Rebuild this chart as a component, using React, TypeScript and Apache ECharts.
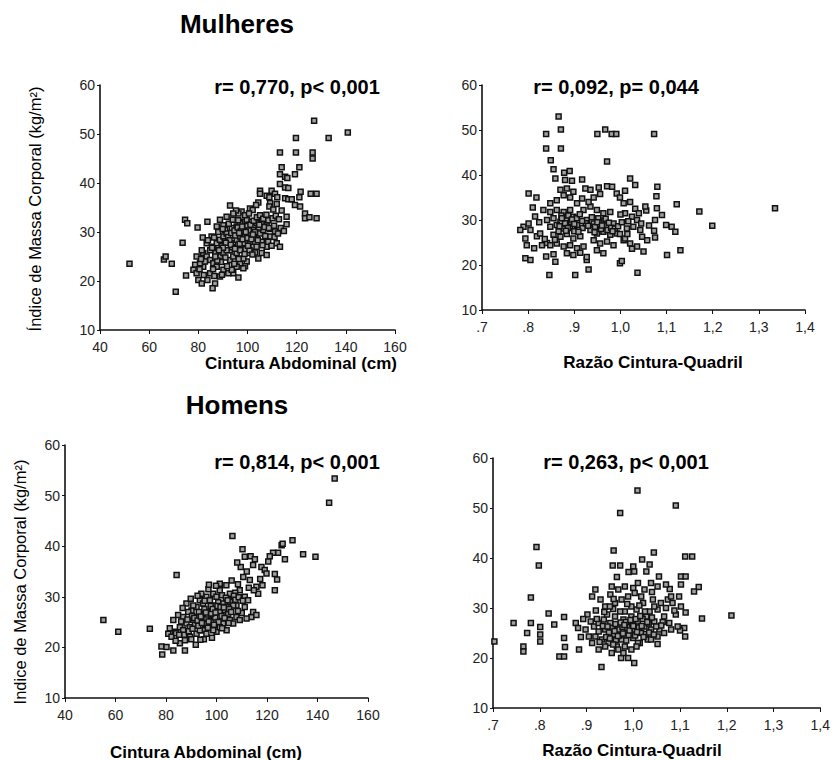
import React, { useEffect, useRef } from "react";
import * as echarts from "echarts";

// Mulheres: Cintura Abdominal (cm) x IMC
const mulheresCintura: [number, number][] = [
  [52,23.5],[66,24.4],[66.7,25],[69.2,23.5],[70.8,17.8],[73.6,27.8],[74.6,32.5],[75.5,31.8],[75,21.1],[79.7,30.9],[83.7,32.1],[81.8,28.9],[92.9,35.4],
  [127.1,52.7],[140.8,50.3],[119.7,49.2],[133,49.2],[113.2,46.2],[119.7,46.2],[126.5,46.2],[126.5,45],[113.9,43.2],[121.1,43.2],[113.2,41.8],[115.3,41.3],[116.2,41],[119.3,41.8],[113.2,39.8],[115.3,39.1],[116.6,39],
  [105.1,38.4],[105.1,37.8],[109.8,38.4],[111.2,37.8],[107.8,37.4],[108.9,37.1],[112.1,37.1],[115.3,36.9],[116.6,36.7],[118,36.7],[121.6,38.2],[121.1,37.1],[125.7,37.8],[128.1,37.8],
  [104.4,36],[103.5,35.5],[101,34.8],[102.1,34.5],[97.6,34.2],[96.3,33.8],[95.3,34.4],[109.2,35.9],[111.9,35.7],[108.9,35.2],[110.5,34.6],[113.9,34.4],[119.3,35.5],[121.4,35.2],[115.9,33.1],[115.9,31.6],[123.4,33.8],[123.4,32.8],[125.2,33],[128.1,32.8],
  [90.2,31.4],[90.9,30.4],[93.6,30.8],[98.3,32.1],[99.7,32.5],[101.7,32.1],[103.7,31.8],[105.8,31.8],[107.8,31.4],[109.2,30.6],[111.2,30.1],[111.9,27.7],[113.2,27],[107.8,27],[105.8,25.7],[103.1,25.8],[99.7,24],[99,23],[98.3,22.6],[94.2,21.6],[96.3,20.7],[86.8,19.5],[85.8,18.5],
  [78.7,23.3],[78,22.3],[79.3,21.6],[80,20.2],[81.4,19.5],[82,25.7],[83.4,25],[84.8,26.3],[86.1,27],[87.5,27.7],[88.8,28.4],[90.2,29.1],[91.5,29.7],[92.9,26.3],[94.2,27.7],[95.6,28.4],[97,29.1],[99.7,29.1],[101,29.7],[102.4,30.4],[103.7,29.1],[105.1,29.7],[106.4,30.4],[101,27.7],[102.4,27],
  [84.8,24.3],[86.1,23.6],[87.5,22.9],[88.8,25],[90.2,25.7],[91.5,26.3],[92.9,24.3],[94.2,25],[95.6,25.7],[97,26.3],[98.3,27.7],[97,23.6],[90.2,22.3],[92.2,21.6],[88.8,20.9],[84.8,21.6],[82,22.9],[80.7,23.6],[83.4,27.7],[85.4,29.1],[87.5,31.1],[88.8,32.5],[95.6,31.1],[97,31.8],[91.5,33.1],[94.2,33.8],[105.8,28],[103.7,27],[109.2,29.1],[100.3,25.7],[104.4,24.6],[107.8,25.3],[98.3,24.6],[95.6,22.9],[93.6,22.3],[79.3,25],[81.4,26.3],[82.7,24],
  [89.5,27.2],[90.8,28.1],[92.1,29],[93.4,29.8],[94.7,30.3],[96,30.9],[97.3,30.2],[98.6,30.8],[99.9,31.2],[101.2,31.5],[102.5,32.3],[103.8,33],[105.1,33.4],[106.4,32.7],[107.7,33.5],[108.5,32.4],[110.2,32.8],[111.5,33.3],[112.8,32.6],[113.5,30.8],[114.8,30.2],[110.8,31.3],[106.9,31],[104.5,30.9],[100.5,30.3],[96.8,27.6],[93.8,26.9],[91,24.8],[89.2,23.9],[87,25.7],[85.6,26.8],[83.9,28.3],[86.4,28.9],[88.1,30],[89.9,30.6],[92.4,31.7],[94,32.5],[96.2,32.4],[99,33.4],[100.6,33.8],[102.7,28.8],[104.2,28.3],[106.1,27.3],[108.4,28],[109.8,27.2],[111,29],[112.4,29.7],[98,28.5],[99.2,26.5],[100.8,26.3],[102,25.4],[96.4,24.5],[94.6,23.5],[91.7,23],[89.6,21.3],[86.5,21],[83.7,20.2],[82.2,21.2],[80.5,22.4],[81.1,24.5],[87.7,24.2],[86,22.4],
  [95,29.3],[96.6,29.8],[97.8,31.1],[99.3,30],[100,28.8],[101.6,28.5],[103,30],[104.8,31.5],[92.7,28.3],[91.2,27.8],[90,26.8],[88.4,26.3],[86.9,25],[93.2,27.4],[94.9,26.6],[98.8,25.5],[100.2,27.2],[102.2,29.5],[107.2,29.2],[108.7,30.8]
];

// Mulheres: Razão Cintura-Quadril x IMC
const mulheresRazao: [number, number][] = [
  [0.866,53],[0.839,49.1],[0.871,50.1],[0.95,49.1],[0.967,50.1],[0.981,49.1],[0.991,49.1],[1.073,49.1],[0.839,45.9],[0.871,45.9],[0.849,43.3],[0.971,43],[0.855,41.3],[0.878,40.5],[0.89,40.9],[0.859,39.2],[0.88,38.9],[0.895,38.7],[0.917,39],[0.924,37],[0.935,36.7],[0.953,37.2],[0.971,37.5],[0.982,37.4],[1.021,39.2],[1.032,37.8],[1.01,36.5],[1.08,37.4],[0.87,36.7],[0.884,37],[0.898,36.3],[0.877,35.5],[0.801,35.9],[0.818,35],[0.81,32.8],[1.122,33.5],[1.171,31.9],[1.335,32.6],[1.199,28.7],[1.078,35.3],[1.079,32.6],[1.056,32.1],[1.054,33],[1.075,30],[1.09,31.1],[1.111,28.5],[1.119,27.4],[1.073,27.6],[1.099,28.9],[1.13,23.3],[1.101,22.2],[1.075,26.1],[0.79,28.5],[0.801,29.2],[0.794,25.9],[0.797,24.4],[0.794,21.5],[0.805,21.1],[0.813,23.7],[0.83,24.4],[0.841,24.9],[0.819,26.4],[0.826,27],[0.839,21.9],[0.855,22.4],[0.848,24.4],[0.846,17.8],[0.859,20.7],[0.902,17.8],[0.931,19],[0.927,21.1],[0.999,20.4],[1.003,20.9],[1.037,18.3],
  [0.833,32.2],[0.848,31.8],[0.862,32.2],[0.877,31.8],[0.891,32.2],[0.841,30],[0.855,30.4],[0.87,29.6],[0.884,30],[0.898,30.7],[0.848,28.5],[0.862,28.9],[0.877,28.1],[0.891,28.5],[0.906,28.9],[0.855,26.7],[0.87,26.3],[0.884,26.9],[0.898,25.9],[0.913,26.4],[0.862,24.8],[0.877,24.1],[0.891,24.4],[0.906,23.7],[0.92,24.1],[0.884,22.6],[0.898,22.2],[0.913,22.7],[0.927,21.8],[0.92,32.2],[0.935,33],[0.949,32.2],[0.963,31.5],[0.978,31.8],[0.927,30],[0.942,29.2],[0.956,29.6],[0.971,28.9],[0.985,29.2],[0.935,27.8],[0.949,27],[0.963,27.4],[0.978,26.7],[0.992,27],[0.942,25.5],[0.956,24.8],[0.971,25.2],[0.985,24.4],[0.949,23.3],[0.963,22.6],[1.007,33.7],[1.021,34],[1.01,31.5],[1.025,30.7],[1.036,30],[1.014,28.1],[1.028,28.5],[1.043,27.8],[1.047,26.3],[1.007,25.5],[1.021,24.8],[1.036,24.1],[1.05,23],[0.999,26.9],[1.01,25.9],[0.805,27.8],[0.783,27.8],[0.848,33.7],[0.862,34.4],[0.891,35],[0.906,33.7],[0.917,34.8],[0.931,34],[0.942,35],[0.956,35.8],[0.992,35.9],[0.999,35],
  [0.88,29.3],[0.887,31],[0.893,29.6],[0.9,27.5],[0.905,30.4],[0.912,31.3],[0.918,28.2],[0.925,29.3],[0.945,28.5],[0.952,30.4],[0.958,28],[0.965,29.9],[0.972,27.8],[0.98,28.3],[0.988,28.1],[0.995,28.6],[1.003,29.5],[1.017,29.7],[1.032,32.5],[1.04,31.5],[1.045,29.2],[1.058,25.5],[1.062,28.8],[0.866,27.5],[0.872,31],[0.858,25.6],[0.836,25.8],[0.824,29.5],[0.815,30.8],[1.0,31.2],[1.015,26.9],[1.025,23.6],
  [0.886,28.2],[0.895,30.1],[0.9,29.1],[0.909,27.4],[0.917,29.8],[0.93,28.7],[0.938,30.6],[0.944,27.3],[0.95,29.5],[0.96,28.8],[0.968,30.3],[0.975,29.4],[0.983,27.5],[0.873,30.4],[0.868,28.6],[0.882,27.6]
];

// Homens: Cintura Abdominal (cm) x IMC
const homensCintura: [number, number][] = [
  [55.2,25.4],[61.1,23.1],[73.6,23.7],[84.2,34.3],[106.3,42],[78.5,18.6],[78.2,20.2],[146.8,53.4],[144.6,48.6],[130.1,41.2],[134.3,38.4],[139.2,37.9],[127.1,37.4],[125.8,40.2],[126.2,40.5],[124.4,38.7],[122.4,38.7],[121.1,38],[113.8,26],[117.8,35.9],[119.1,35.3],[119.8,34.6],[123.1,34.5],[124,33.4],[123.1,31.3],[110.3,39.4],[111.2,37.9],[113.5,38],[115.2,37.4],[114.5,36.3],[109.6,35.9],[110.6,33.9],[113.2,33.3],[115.8,32],[116.5,30.6],[114.8,31.3],[109.2,31.3],[111.2,30],[112.5,29.3],[111.2,28],[101.3,32.6],[103.9,32.3],[105.3,30.6],[106.6,29.3],[107.9,28.3],
  [80.9,22.7],[82.2,22.1],[83.5,23.1],[85.5,24],[86.8,23.4],[88.1,24.7],[89.5,24],[90.8,25.4],[92.1,26],[93.4,25],[94.7,26.4],[96,25.7],[97.4,27],[98.7,26.4],[100,27.7],[101.3,27],[102.6,28.7],[104,28],[105.3,29],[106.6,28.3],
  [88.1,28.7],[90.1,27.3],[92.1,28],[93.4,29.3],[94.7,28.7],[96,30],[97.4,29.3],[98.7,30.6],[100,30],[101.3,31.3],
  [89.5,22.1],[92.1,22.7],[94.7,23.4],[97.4,24],[100,23.1],[102.6,24.7],[105.3,25.4],[107.9,26],
  [82.9,25.4],[84.8,26.4],[86.8,26],[88.8,27],[90.8,28.3],[85.5,20.8],[87.5,21.4],[80.2,20.1],[82.9,19.4],[87.5,19.4],
  [93.4,23.4],[96,22.7],[98.7,23.4],[101.3,24],[104,23.4],[106.6,24.7],[109.2,25.4],[111.9,25.7],[114.5,27],[115.8,26.4],
  [91.5,24.5],[93,27],[95.2,27.6],[96.5,26.5],[98,25.2],[99.2,28.3],[100.7,28.9],[102,26.2],[103.3,27.4],[104.6,26.6],[99.5,25.9],[97.7,28.2],[95.5,24.6],[92.8,24.3],[90.3,26.2],[88.5,25.5],[87.2,22.5],[86,25.1],[84,22.8],[96.8,31.5],[99.8,32.2],[102.2,30.3],[103.7,29.8],[107.4,30.8],[108.5,32.5],[106,33.2],[112,35],[108.2,36.8],[117.3,33.5],[120.5,37],[118.2,32.3],[110,26.8],[112.8,31.8],[105,27.6],[100.8,25],[98.2,21.9],[95,21.6],[91.8,20.5],[83.8,21.3],[81.5,23.8],
  [89,23.2],[90.5,23.7],[91.2,25.8],[92.5,25.3],[93.8,26.1],[94.2,24.8],[95.8,26.9],[96.9,25.1],[97.9,26.7],[98.5,27.6],[99.6,26.9],[100.4,28.2],[101.6,28],[102.9,27.9],[103.2,25.8],[104.4,29.3],[105.8,27],[106.9,30.2],[107.5,29.4],[108.8,29.9],[110.4,29.2],[95.3,29.2],[94,30.6],[97,32.4],[92.5,30.2],[89.8,29.6],[86.6,27.8],[85.2,22.5],[93.6,21.5],[96.6,23.9],[99,24.5],[102.2,23.8],[104.8,24.8],[108.5,27.2],[90,21.6]
];

// Homens: Razão Cintura-Quadril x IMC
const homensRazao: [number, number][] = [
  [0.703,23.3],[0.744,27],[0.765,22.3],[0.765,21.3],[0.773,25],[0.781,32.1],[0.781,27],[0.793,42.2],[0.798,38.5],[0.801,26.2],[0.801,24.7],[0.801,23.3],[0.819,28.9],[0.831,26.7],[0.842,20.3],[0.852,20.3],[0.852,28.2],[0.852,24],[0.854,22.2],[0.877,27],[0.882,26],[0.884,21.7],[0.932,18.2],[0.972,49],[1.009,53.5],[1.091,50.5],[0.958,41.5],[1.044,41.1],[0.956,38.5],[0.972,38.5],[1.21,28.5],[1.147,27.9],[1.14,34.2],[1.13,33.3],[1.111,40.3],[1.126,40.3],[1.102,36.3],[1.112,36.3],[1.102,34.7],[1.112,29.1],[1.109,26],[1.111,24.3],[1.1,25.5],[1.052,22.8],[0.974,20],[0.989,20],[1.002,19],[1.019,39.7],[1.035,38.7],[1.028,37.3],[1,38.3],[1.002,37.3],[1.055,36.3],[1.078,33.8],
  [0.902,28.7],[0.909,27.3],[0.916,26.3],[0.919,24.3],[0.926,25.3],[0.933,23.7],[0.94,25.7],[0.947,23],[0.951,27],[0.958,24.7],[0.961,28.3],[0.965,22.3],[0.968,25.7],[0.975,23.7],[0.979,27.7],[0.982,29.3],[0.986,25],[0.993,26.3],[0.996,28.3],[1,24],[1.003,25.7],[1.007,29.7],[1.01,27.3],[1.014,23],[1.017,25],[1.021,31],[1.024,26.3],[1.028,28.3],[1.031,23.7],[1.035,29.3],[1.038,25.7],[1.042,31.7],[1.045,27.3],[1.052,29.7],[1.056,25.7],[1.059,31],[1.066,28.3],[1.074,31.7],[1.077,27],[1.084,31],[1.091,28.7],[1.098,32.3],[1.102,30.3],
  [0.954,34.3],[0.968,33.7],[0.982,34.3],[1,34],[1.01,35],[1.024,33.7],[1.038,35],[1.052,34.3],[1.07,34.7],[1.081,32.3],
  [0.912,32.3],[0.919,33.7],[0.93,31.7],[0.94,30.3],[0.951,32.7],
  [0.898,25.7],[0.905,24.3],[0.912,23],[0.926,21.7],[0.94,22.3],[0.954,21],[0.968,21.7],[0.982,22.3],[0.996,21.7],[1.01,23],
  [1.038,23.7],[1.052,24.3],[1.066,25],[1.081,25.7],[1.095,26.3],
  [0.961,31],[0.975,31.7],[0.989,32.3],[1.003,33],[1.017,32.3],
  [0.926,27],[0.937,27.7],[0.944,28.7],[0.972,29.3],[0.996,30.3],
  [0.955,26],[0.962,26.8],[0.97,24.5],[0.977,26.2],[0.984,27.2],[0.99,24.6],[0.998,26.8],[1.005,27.8],[1.012,26.1],[1.02,27.8],[1.027,24.8],[0.948,25.1],[0.942,24.2],[0.935,26.4],[0.963,23.6],[0.979,21],[1.007,22.3],[1.033,26.9],[1.049,26.3],[1.063,27.2],[0.987,30.8],[1.013,30.5],[1.025,29.3],[0.957,29.8],[0.92,29.5],[0.888,24.2],[0.893,27.8],[1.07,30],[1.088,29.5],[1.04,33.2],[0.965,36.2],[0.99,37.2],[1.045,30.3],
  [0.945,26.3],[0.95,23.9],[0.957,22.7],[0.96,25.4],[0.967,24.4],[0.973,27.1],[0.978,24.9],[0.981,26.6],[0.985,23.5],[0.992,25.5],[0.994,27.6],[1.0,26.4],[1.004,24.5],[1.008,25.2],[1.015,28.4],[1.018,26.4],[1.022,24.2],[1.03,27.2],[1.034,25.1],[1.04,28.1],[0.928,23.2],[0.922,27.8],[0.938,29.2],[0.958,31.8],[0.95,30.3],[1.06,26.5],[1.044,24.7]
];

const grupos = ["Mulheres", "Homens"];
const estatisticas = ["r= 0,770, p< 0,001", "r= 0,092, p= 0,044", "r= 0,814, p< 0,001", "r= 0,263, p< 0,001"];
const tituloCintura = "Cintura Abdominal (cm)";
const tituloRazao = "Razão Cintura-Quadril";
const tituloImc = ["Índice de Massa Corporal (kg/m²)", "Indice de Massa Corporal (kg/m²)"];
const imcRange = { min: 10, max: 60, interval: 10 };
const cinturaRange = { min: 40, max: 160, interval: 20 };
const razaoRange = { min: 0.7, max: 1.4, interval: 0.1 };

const FONT = "'Liberation Sans', Arial, Helvetica, sans-serif";

function razaoLabel(v: number): string {
  const r = Math.round(v * 10) / 10;
  if (r < 1) return "." + Math.round(r * 10);
  return r.toFixed(1).replace(".", ",");
}

export default function App() {
  const ref = useRef<HTMLDivElement>(null);
  useEffect(() => {
    if (!ref.current) return;
    const chart = echarts.init(ref.current, null, { renderer: "svg" });
    const grids = [
      { left: 100, top: 85, width: 295, height: 245 },
      { left: 482, top: 85, width: 323, height: 225 },
      { left: 65, top: 445, width: 303, height: 253 },
      { left: 493, top: 458, width: 332, height: 250 },
    ];
    const axisLine = { show: true, onZero: false, lineStyle: { color: "#111", width: 1.6 } };
    const tickLabel = { color: "#222", fontFamily: FONT, fontSize: 14 };
    const xr = [cinturaRange, razaoRange, cinturaRange, razaoRange];
    const xAxis = xr.map((r, i) => ({
      type: "value", gridIndex: i, min: r.min, max: r.max, interval: r.interval,
      splitLine: { show: false }, axisLine,
      axisTick: { show: true, length: 4, lineStyle: { color: "#111" } },
      axisLabel: { ...tickLabel, margin: 10, showMaxLabel: true, showMinLabel: true,
        formatter: r === razaoRange ? (v: number) => razaoLabel(v) : (v: number) => String(v) },
    }));
    const yAxis = grids.map((_, i) => ({
      type: "value", gridIndex: i, min: imcRange.min, max: imcRange.max, interval: imcRange.interval,
      splitLine: { show: false }, axisLine,
      axisTick: { show: true, length: 3, lineStyle: { color: "#111" } },
      axisLabel: { ...tickLabel, margin: 5 },
    }));
    const datasets = [mulheresCintura, mulheresRazao, homensCintura, homensRazao];
    const series = datasets.map((d, i) => ({
      type: "scatter", xAxisIndex: i, yAxisIndex: i, data: d,
      symbol: "rect", symbolSize: 5,
      itemStyle: { color: "#a0a0a0", borderColor: "#111", borderWidth: 1.5, opacity: 1 },
    }));
    const txt = (text: string, x: number, y: number, size: number, bold: boolean, rotation = 0) => ({
      type: "text", x, y, rotation, silent: true,
      style: {
        text, fill: "#000", fontSize: size, fontWeight: bold ? "bold" : "normal", fontFamily: FONT,
        align: "center", verticalAlign: "middle", textAlign: "center", textVerticalAlign: "middle",
      },
    });
    const graphic = [
      txt(grupos[0], 237, 24, 26, true),
      txt(grupos[1], 237, 405, 26, true),
      txt(estatisticas[0], 297, 87, 20, true),
      txt(estatisticas[1], 616, 87, 20, true),
      txt(estatisticas[2], 297, 462, 20, true),
      txt(estatisticas[3], 626, 462, 20, true),
      txt(tituloCintura, 301, 363, 17, true),
      txt(tituloRazao, 653, 362, 17, true),
      txt(tituloCintura, 206, 752, 17, true),
      txt(tituloRazao, 632, 750, 17, true),
      txt(tituloImc[0], 35, 209, 16.5, false, Math.PI / 2),
      txt(tituloImc[1], 20, 582, 16.5, false, Math.PI / 2),
    ];
    chart.setOption({
      animation: false,
      backgroundColor: "#fff",
      grid: grids,
      xAxis, yAxis, series, graphic,
    });
    return () => chart.dispose();
  }, []);
  return <div ref={ref} style={{ position: "absolute", left: 0, top: 0, width: 833, height: 760 }} />;
}
